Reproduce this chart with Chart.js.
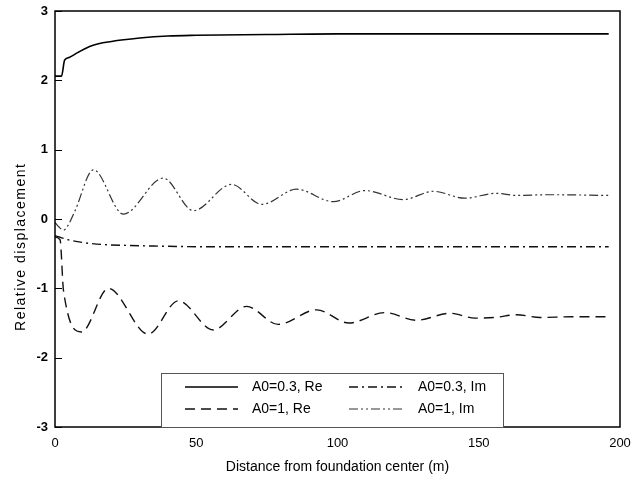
<!DOCTYPE html>
<html>
<head>
<meta charset="utf-8">
<script src="https://cdn.jsdelivr.net/npm/chart.js@4"></script>
<style>
  html, body { margin: 0; padding: 0; background: #fff; }
  #wrap { width: 644px; height: 480px; }
</style>
</head>
<body>
<div id="wrap"><canvas id="chart" width="644" height="480"></canvas></div>
<script>
// values
const xTicks = [0, 50, 100, 150, 200];
const yTicks = [-3, -2, -1, 0, 1, 2, 3];

const labels = ['A0=0.3, Re', 'A0=0.3, Im', 'A0=1, Re', 'A0=1, Im'];
const xTitle = 'Distance from foundation center (m)';
const yTitle = 'Relative displacement';

const xRe03 = [0, 2.3, 3.4, 5, 8, 13, 20, 30, 40, 50, 75, 100, 150, 196];
const yRe03 = [2.06, 2.06, 2.29, 2.33, 2.40, 2.50, 2.56, 2.61, 2.64, 2.65, 2.66, 2.67, 2.67, 2.67];

const xIm03 = [0, 1.5, 4.7, 10, 17.7, 25, 35, 53, 80, 120, 160, 196];
const yIm03 = [-0.24, -0.26, -0.30, -0.34, -0.37, -0.38, -0.39, -0.40, -0.40, -0.40, -0.40, -0.40];

const xRe1 = [0, 1.8, 3, 9.4, 18.9, 33, 43.7, 56, 67.8, 79, 92.6, 104, 116.8, 128, 139.8, 148.7, 155.8, 163.4, 171.7, 183, 196];
const yRe1 = [-0.26, -0.3, -1.03, -1.63, -1.0, -1.66, -1.18, -1.60, -1.26, -1.52, -1.31, -1.50, -1.35, -1.46, -1.36, -1.43, -1.42, -1.38, -1.42, -1.41, -1.41];

const xIm1 = [0, 1.5, 3, 4.5, 7.1, 13.6, 24.2, 38.3, 49, 62.5, 73.2, 85.5, 98.5, 109.7, 123.3, 133.9, 145, 156, 163.4, 175, 196];
const yIm1 = [-0.05, -0.12, -0.16, -0.1, 0.12, 0.71, 0.07, 0.59, 0.12, 0.50, 0.21, 0.43, 0.25, 0.41, 0.28, 0.40, 0.30, 0.37, 0.34, 0.35, 0.34];

const font = '"Liberation Sans", Arial, sans-serif';

function pts(xs, ys) {
    return xs.map((x, i) => ({ x: x, y: ys[i] }));
}

function series(label, xs, ys, dash, color, width) {
    return {
        label: label,
        data: pts(xs, ys),
        borderColor: color,
        borderWidth: width,
        borderDash: dash,
        pointRadius: 0,
        fill: false,
        cubicInterpolationMode: 'monotone'
    };
}

// frame, inward y ticks, y title and the boxed legend inside the plot
const framePlugin = {
    id: 'frame',
    afterDraw(chart) {
        const c = chart.ctx;
        const a = chart.chartArea;
        const ys = chart.scales.y;
        c.save();
        c.strokeStyle = '#000';
        c.lineWidth = 1.5;
        c.setLineDash([]);
        c.strokeRect(a.left, a.top, a.right - a.left, a.bottom - a.top);
        c.lineWidth = 1;
        yTicks.forEach(v => {
            const py = Math.round(ys.getPixelForValue(v)) + 0.5;
            c.beginPath();
            c.moveTo(a.left, py);
            c.lineTo(a.left + 7, py);
            c.stroke();
        });

        // y axis title, spread out a little like the scan
        c.save();
        c.translate(21, ys.getPixelForValue(-0.4));
        c.rotate(-Math.PI / 2);
        c.font = '14px ' + font;
        c.letterSpacing = '1.5px';
        c.fillStyle = '#000';
        c.textAlign = 'center';
        c.textBaseline = 'middle';
        c.fillText(yTitle, 0, 0);
        c.restore();

        // legend box
        const box = { l: 161, t: 373, r: 503, b: a.bottom };
        c.fillStyle = '#fff';
        c.fillRect(box.l, box.t, box.r - box.l, box.b - box.t);
        c.strokeStyle = '#555';
        c.lineWidth = 1;
        c.strokeRect(box.l + 0.5, box.t + 0.5, box.r - box.l, box.b - box.t);

        const cols = [{ s: 185, e: 238, tx: 252 }, { s: 349, e: 405, tx: 418 }];
        const rows = [387, 409];
        const order = [[0, 0, 0], [1, 1, 0], [2, 0, 1], [3, 1, 1]];
        c.font = '14px ' + font;
        c.textBaseline = 'middle';
        c.textAlign = 'left';
        order.forEach(([di, ci, ri]) => {
            const ds = chart.data.datasets[di];
            const col = cols[ci];
            const y = rows[ri];
            c.strokeStyle = ds.borderColor;
            c.lineWidth = ds.borderWidth;
            c.setLineDash(ds.borderDash);
            c.beginPath();
            c.moveTo(col.s, y);
            c.lineTo(col.e, y);
            c.stroke();
            c.setLineDash([]);
            c.fillStyle = '#000';
            c.fillText(ds.label, col.tx, y);
        });
        c.restore();
    }
};

new Chart(document.getElementById('chart'), {
    type: 'line',
    data: {
        datasets: [
            series(labels[0], xRe03, yRe03, [], '#000', 1.6),
            series(labels[1], xIm03, yIm03, [9, 4, 2, 4], '#111', 1.4),
            series(labels[2], xRe1, yRe1, [10, 6], '#111', 1.4),
            series(labels[3], xIm1, yIm1, [9, 3, 2, 3, 2, 3], '#333', 1.2)
        ]
    },
    options: {
        responsive: false,
        animation: false,
        layout: { padding: { top: 11, right: 24, left: 0, bottom: 0 } },
        plugins: {
            legend: { display: false },
            tooltip: { enabled: false }
        },
        scales: {
            x: {
                type: 'linear',
                min: 0,
                max: 200,
                afterFit: s => { s.height = 53; s.paddingLeft = 0; s.paddingRight = 0; },
                afterBuildTicks: s => { s.ticks = xTicks.map(v => ({ value: v })); },
                grid: { display: false, drawTicks: false },
                border: { display: false },
                ticks: { color: '#000', padding: 9, font: { family: font, size: 13 } },
                title: {
                    display: true,
                    text: xTitle,
                    color: '#000',
                    padding: { top: 0, bottom: 4 },
                    font: { family: font, size: 14 }
                }
            },
            y: {
                min: -3,
                max: 3,
                afterFit: s => { s.width = 55; s.paddingTop = 0; s.paddingBottom = 0; },
                afterBuildTicks: s => { s.ticks = yTicks.map(v => ({ value: v })); },
                grid: { display: false, drawTicks: false },
                border: { display: false },
                ticks: { color: '#000', padding: 7, font: { family: font, size: 13, weight: 'bold' } },
                title: { display: false }
            }
        }
    },
    plugins: [framePlugin]
});
</script>
</body>
</html>
